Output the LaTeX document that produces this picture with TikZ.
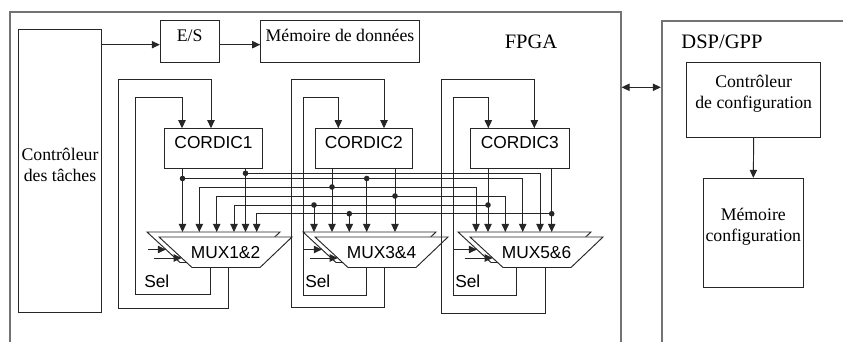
\documentclass[tikz,border=0pt]{standalone}
\usepackage{fontspec}
\setmainfont{Liberation Serif}
\setsansfont{Liberation Sans}
\usetikzlibrary{arrows.meta,calc,fit}
\tikzset{
  wire/.style={line width=0.7pt, draw=black!85},
  arr/.style={wire, -{Triangle[length=6pt,width=5.5pt]}},
  arrtwo/.style={wire, {Triangle[length=6pt,width=5.5pt]}-{Triangle[length=6pt,width=5.5pt]}},
  box/.style={draw=black!85, line width=0.7pt, inner sep=0pt, align=center,
    font=\fontsize{13.3}{15.8}\selectfont},
  sansf/.style={font=\sffamily\fontsize{13}{15.6}\selectfont},
  bigserif/.style={font=\fontsize{15.4}{18}\selectfont, inner sep=0pt},
  outer/.style={draw=black!55, line width=1.3pt, inner sep=0pt},
  muxs/.style={draw=black!85, line width=0.7pt, fill=white},
  dot/.style={circle, fill=black!85, inner sep=0pt, minimum size=4.2pt},
}
\newcommand\muxblock[5]{%
  \coordinate (#1tl) at (#2,#3);
  \coordinate (#1btl) at ($(#1tl)+(-12,-5)$);
  \coordinate (#1bot) at ($(#1tl)+(0,30.5)$);
  \filldraw[muxs] (#1btl) -- ++(133,0) -- ++(-32,30.5) -- ++(-68,0) -- cycle;
  \filldraw[muxs] (#1tl) -- ++(133,0) -- ++(-32,30.5) -- ++(-68,0) -- cycle;
  \node[sansf] (#1) at ($(#1tl)+(66.5,15.25)$) {#4};
  \coordinate (#1ia) at ($(#1tl)+(#5,12.5)$);
  \coordinate (#1ea) at ($(#1tl)+(6.9,12.5)$);
  \coordinate (#1ib) at ($(#1tl)+(-5.5,21)$);
  \coordinate (#1eb) at ($(#1tl)+(22.7,21)$);
  \draw[arr] (#1ia) -- (#1ea);
  \draw[arr] (#1ib) -- (#1eb);
}
\begin{document}
\begin{tikzpicture}[x=0.75pt,y=-0.75pt]
\useasboundingbox (0,0) rectangle (843,342);
\clip (0,0) rectangle (843,342);
\fill[white] (0,0) rectangle (843,342);

% outer frames
\node[outer, fit={(10,12) (620.7,380)}] (fpga) {};
\node[outer, fit={(661.7,20.7) (900,380)}] (dsp) {};
\node[bigserif] (fpgal) at (531,41.7) {FPGA};
\node[bigserif] (dspl) at (722,41.7) {DSP/GPP};
\coordinate (dy) at (0,87.3);
\draw[arrtwo] (fpga.east |- dy) -- (dsp.west |- dy);

% left part
\node[box, fit={(18.3,29) (101.7,312.7)}] (ctrl) {Contrôleur\\des tâches};
\node[box, fit={(160.3,20.7) (219,62)}] (es) {E/S};
\node[box, fit={(260.7,20.7) (419.3,62)}] (mem) {Mémoire de données};
\coordinate (esa) at ([yshift=-2.5pt]es.west);
\coordinate (esb) at ([yshift=-2.5pt]es.east);
\draw[arr] (esa -| ctrl.east) -- (esa);
\draw[arr] (esb) -- (esb -| mem.west);

% DSP part
\node[box, fit={(686.7,62.7) (820.7,137.3)}] (cfg) {Contrôleur\\de configuration};
\node[box, fit={(703.3,178.3) (803.3,287.7)}] (memc) {Mémoire\\configuration};
\draw[arr] (cfg.south) -- (memc.north);

% CORDIC blocks
\node[box, sansf, fit={(164.3,128.7) (262.7,168.5)}] (c1) {CORDIC1};
\node[box, sansf, fit={(315,128.7) (412.7,168.5)}] (c2) {CORDIC2};
\node[box, sansf, fit={(470.5,128.7) (569,168.5)}] (c3) {CORDIC3};

% MUX blocks
\muxblock{m1}{159}{237}{MUX1\&2}{-11.3}
\muxblock{m2}{315}{237}{MUX3\&4}{-11.7}
\muxblock{m3}{470}{237}{MUX5\&6}{-16.7}

\node[sansf, anchor=west, inner sep=0pt] (s1) at (144,281) {Sel};
\node[sansf, anchor=west, inner sep=0pt] (s2) at (305,281) {Sel};
\node[sansf, anchor=west, inner sep=0pt] (s3) at (455,281) {Sel};

% feedback loops
\draw[arr] (210.5,0 |- m1bot) -- (210.5,294.5) -- (135.7,294.5) -- (135.7,97) -- (182,97) -- (182,0 |- c1.north);
\draw[arr] (228.3,0 |- m1bot) -- (228.3,308) -- (118.3,308) -- (118.3,79) -- (211,79) -- (211,0 |- c1.north);
\draw[arr] (366.7,0 |- m2bot) -- (366.7,295) -- (303.3,295) -- (303.3,97) -- (338.3,97) -- (338.3,0 |- c2.north);
\draw[arr] (384.3,0 |- m2bot) -- (384.3,307.3) -- (291.7,307.3) -- (291.7,79) -- (384,79) -- (384,0 |- c2.north);
\draw[arr] (516.7,0 |- m3bot) -- (516.7,295) -- (453.3,295) -- (453.3,97) -- (488.3,97) -- (488.3,0 |- c3.north);
\draw[arr] (545.7,0 |- m3bot) -- (545.7,313.3) -- (441.7,313.3) -- (441.7,79) -- (534.3,79) -- (534.3,0 |- c3.north);

% junction dots
\node[dot] (j1) at (245.5,173.3) {};
\node[dot] (j2) at (182.5,178.5) {};
\node[dot] (j3) at (332,187) {};
\node[dot] (j4) at (395,196) {};
\node[dot] (j5) at (488,205) {};
\node[dot] (j6) at (551.7,213.7) {};
\node[dot] (t5) at (314,205) {};
\node[dot] (t6) at (349.3,213.7) {};
\node[dot] (t2) at (366.7,178.5) {};

% CORDIC outputs
\draw[arr] (c1.south -| j2) -- (j2 |- m1btl);
\draw[arr] (c1.south -| j1) -- (j1 |- m1btl);
\draw[arr] (c2.south -| j3) -- (j3 |- m2btl);
\draw[arr] (c2.south -| j4) -- (j4 |- m2btl);
\draw[arr] (c3.south -| j5) -- (j5 |- m3btl);
\draw[arr] (c3.south -| j6) -- (j6 |- m3btl);

% bus lines
\coordinate (e1) at (540,173.3);
\coordinate (e2) at (522.7,178.5);
\coordinate (w3) at (199.3,187);
\coordinate (e3) at (476,187);
\coordinate (w4) at (216.7,196);
\coordinate (e4) at (505.3,196);
\coordinate (w5) at (234,205);
\coordinate (w6) at (256.7,213.7);
\draw[arr] (j1.center) -- (e1) -- (e1 |- m3btl);
\draw[arr] (j2.center) -- (e2) -- (e2 |- m3btl);
\draw[arrtwo] (w3 |- m1btl) -- (w3) -- (e3) -- (e3 |- m3btl);
\draw[arrtwo] (w4 |- m1btl) -- (w4) -- (e4) -- (e4 |- m3btl);
\draw[arr] (j5.center) -- (w5) -- (w5 |- m1btl);
\draw[arr] (j6.center) -- (w6) -- (w6 |- m1btl);
\draw[arr] (t5.center) -- (t5 |- m2btl);
\draw[arr] (t6.center) -- (t6 |- m2btl);
\draw[arr] (t2.center) -- (t2 |- m2btl);
\end{tikzpicture}
\end{document}
